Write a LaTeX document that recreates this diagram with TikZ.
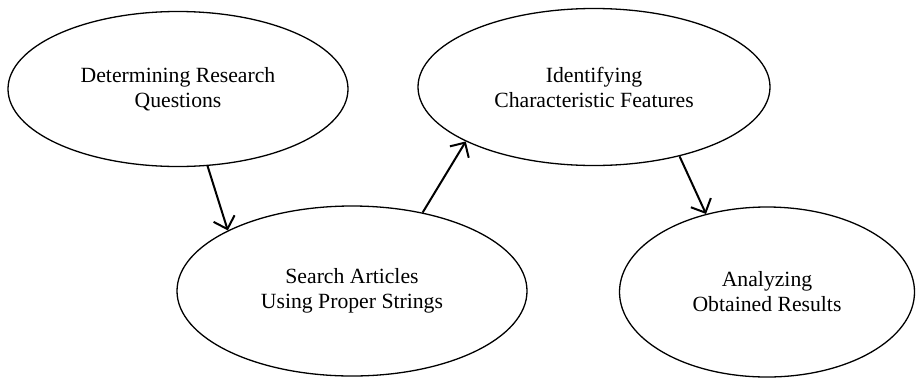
\documentclass[tikz,border=0pt]{standalone}
\usepackage{fontspec}
\setmainfont{Liberation Serif}
\usetikzlibrary{shapes.geometric,arrows.meta}
\tikzset{
  ell/.style={draw=black, line width=1.3pt, ellipse, inner sep=0pt, align=center,
    font=\fontsize{21.7}{25}\selectfont},
  conn/.style={line width=2pt, -{Straight Barb[length=11pt,width=22pt,line width=2pt]}}
}
\begin{document}
\begin{tikzpicture}[x=1pt,y=-1pt]
\useasboundingbox (0,0) rectangle (917,378);
\node[ell, minimum width=340pt, minimum height=155pt] (e1) at (178,89) {Determining Research\\Questions};
\node[ell, minimum width=350pt, minimum height=170pt] (e2) at (352,291) {Search Articles\\Using Proper Strings};
\node[ell, minimum width=352pt, minimum height=157pt] (e3) at (594,87) {Identifying\\Characteristic Features};
\node[ell, minimum width=295pt, minimum height=170pt] (e4) at (767,292) {Analyzing\\Obtained Results};
\draw[conn] (e1.-69.6) -- (e2.154);
\draw[conn] (e2.48.6) -- (e3.203.9);
\draw[conn] (e3.-39.9) -- (e4.128.6);
\end{tikzpicture}
\end{document}
